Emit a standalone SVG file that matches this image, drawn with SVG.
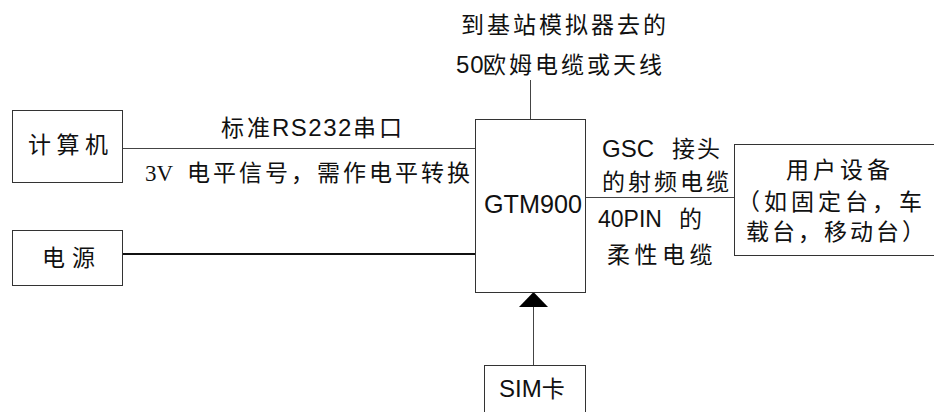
<svg xmlns="http://www.w3.org/2000/svg" width="934" height="412" viewBox="0 0 934 412">
<style>
.box{fill:#fff;stroke:#333;stroke-width:1}
.ln{stroke:#444;stroke-width:1;fill:none}
.t{font-family:"Liberation Sans","Noto Sans CJK SC",sans-serif;font-size:23px;fill:#111}
.s{font-family:"Liberation Serif","Noto Sans CJK SC",serif}
.l{font-size:24px}
.c4{letter-spacing:3px}
</style>
<rect width="934" height="412" fill="#fff"/>
<g id="connectors">
<line class="ln" x1="530.5" y1="80" x2="530.5" y2="119"/>
<line class="ln" x1="122" y1="148.5" x2="476" y2="148.5"/>
<line x1="122" y1="254" x2="476" y2="254" stroke="#111" stroke-width="2"/>
<line class="ln" x1="585" y1="197.5" x2="735" y2="197.5"/>
<line class="ln" x1="533.5" y1="365" x2="533.5" y2="305"/>
<polygon points="519,307 533.5,292 548,307" fill="#000"/>
</g>
<g id="antenna-label">
<text class="t c4" x="461" y="33">到基站模拟器去的</text>
<text class="t" x="456" y="73"><tspan style="letter-spacing:1px;font-size:24px">50</tspan><tspan class="c4" x="483">欧姆电缆或天线</tspan></text>
</g>
<g id="rs232-label">
<text class="t" x="221" y="136"><tspan class="c4">标准</tspan><tspan class="l" x="272" style="letter-spacing:1.5px">RS232</tspan><tspan class="c4" x="353">串口</tspan></text>
<text class="t" x="145" y="181"><tspan class="s">3V</tspan><tspan class="c4" x="187">电平信号，需作电平转换</tspan></text>
</g>
<g id="computer">
<rect class="box" x="12.5" y="110.5" width="110" height="72"/>
<text class="t" x="28" y="153" style="letter-spacing:5.5px">计算机</text>
</g>
<g id="power">
<rect class="box" x="12.5" y="230.5" width="110" height="55"/>
<text class="t" x="42" y="266" style="letter-spacing:7px">电源</text>
</g>
<g id="gtm900">
<rect class="box" x="475.5" y="119.5" width="110" height="173"/>
<text class="t" x="484" y="213" style="font-size:26px" textLength="98" lengthAdjust="spacingAndGlyphs">GTM900</text>
</g>
<g id="cable-label">
<text class="t" x="602" y="157"><tspan class="l">GSC</tspan><tspan x="672" style="letter-spacing:2px">接头</tspan></text>
<text class="t c4" x="602" y="190">的射频电缆</text>
<text class="t" x="598" y="227"><tspan style="font-size:23px">40PIN</tspan><tspan x="679">的</tspan></text>
<text class="t" x="607" y="263" style="letter-spacing:4.5px">柔性电缆</text>
</g>
<g id="user-device">
<rect class="box" x="734.5" y="144.5" width="210" height="111"/>
<text class="t" x="786" y="178" style="letter-spacing:4px">用户设备</text>
<text class="t" x="737" y="210" style="letter-spacing:4px">（如固定台，车</text>
<text class="t" x="746" y="240" style="letter-spacing:3px">载台，移动台）</text>
</g>
<g id="sim">
<rect class="box" x="484.5" y="365.5" width="101" height="60"/>
<text class="t" x="499" y="397"><tspan class="l">SIM</tspan>卡</text>
</g>
</svg>
